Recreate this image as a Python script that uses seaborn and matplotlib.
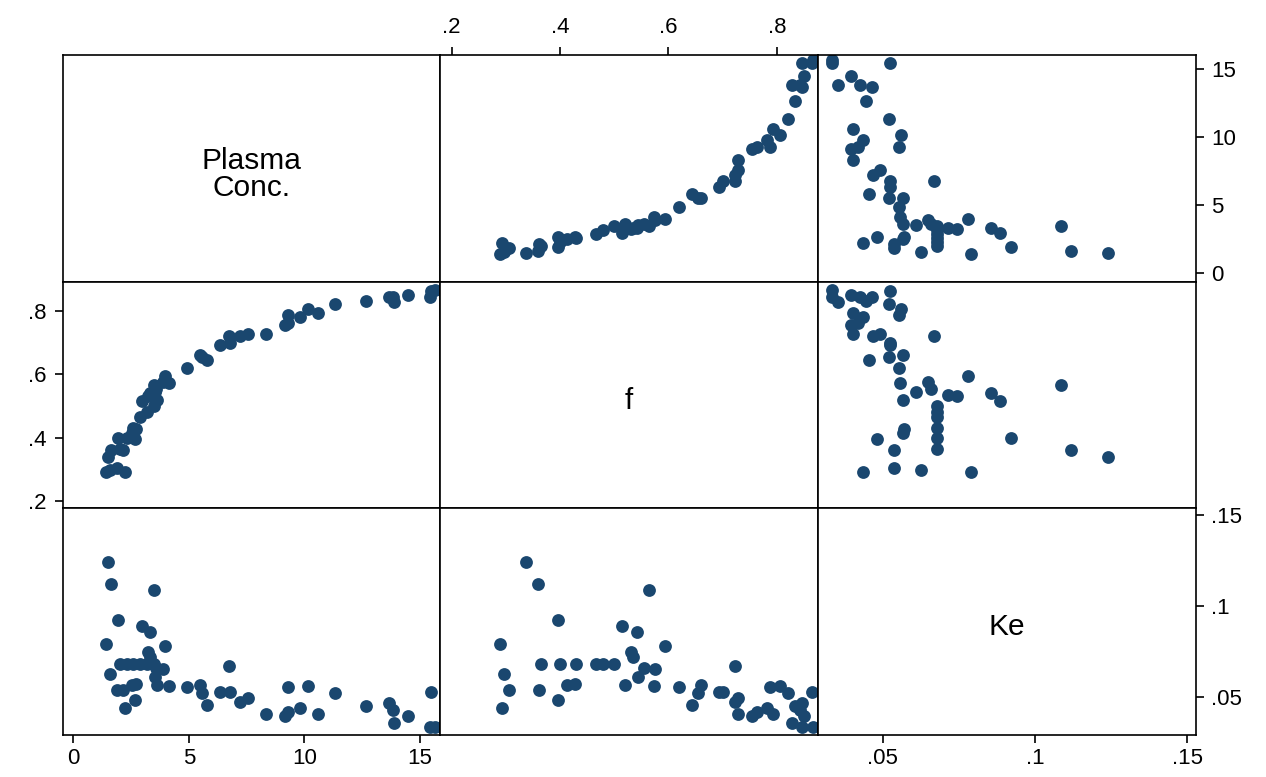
import pandas as pd
import seaborn as sns
import matplotlib.pyplot as plt
import numpy as np

sns.set_style("white")
plt.rcParams['font.family'] = ['Liberation Sans', 'DejaVu Sans']

# data (Plasma Conc., f, Ke)
conc = [1.42, 1.49, 1.59, 1.62, 1.88, 1.95, 2.00, 2.17, 2.24, 2.31,
        2.55, 2.67, 2.70, 2.60, 2.90, 2.99, 3.20, 3.25, 3.32, 3.49,
        3.50, 3.60, 3.61, 3.55, 3.90, 3.97, 4.14, 3.30, 4.91, 5.50,
        5.56, 5.80, 6.35, 6.79, 6.75, 7.22, 7.58, 8.33, 9.16, 9.30,
        9.31, 9.80, 10.17, 10.60, 11.33, 12.67, 13.68, 13.85, 13.88, 14.50,
        15.47, 15.44, 15.66]
f = [0.290, 0.338, 0.297, 0.360, 0.305, 0.397, 0.365, 0.362, 0.292, 0.400,
     0.413, 0.396, 0.428, 0.430, 0.466, 0.515, 0.480, 0.530, 0.542, 0.565,
     0.500, 0.555, 0.520, 0.543, 0.575, 0.594, 0.574, 0.535, 0.620, 0.660,
     0.654, 0.644, 0.694, 0.700, 0.722, 0.722, 0.728, 0.729, 0.755, 0.763,
     0.787, 0.781, 0.806, 0.793, 0.821, 0.833, 0.846, 0.843, 0.828, 0.851,
     0.865, 0.846, 0.866]
ke = [0.0790, 0.1240, 0.0627, 0.1120, 0.0539, 0.0920, 0.0680, 0.0539, 0.0437, 0.0680,
      0.0567, 0.0483, 0.0570, 0.0680, 0.0680, 0.0887, 0.0680, 0.0744, 0.0856, 0.1085,
      0.0680, 0.0660, 0.0567, 0.0610, 0.0650, 0.0780, 0.0558, 0.0716, 0.0553, 0.0567,
      0.0520, 0.0455, 0.0526, 0.0526, 0.0670, 0.0470, 0.0493, 0.0403, 0.0395, 0.0418,
      0.0553, 0.0437, 0.0561, 0.0403, 0.0520, 0.0446, 0.0465, 0.0427, 0.0353, 0.0395,
      0.0526, 0.0334, 0.0334]

variables = ["conc", "f", "ke"]
names = ["Plasma\nConc.", "f", "Ke"]
conc_ticks = [0, 5, 10, 15]
conc_labels = ["0", "5", "10", "15"]
f_ticks = [0.2, 0.4, 0.6, 0.8]
f_labels = [".2", ".4", ".6", ".8"]
ke_ticks = [0.05, 0.10, 0.15]
ke_labels = [".05", ".1", ".15"]

df = pd.DataFrame({"conc": conc, "f": f, "ke": ke})

navy = "#1a476f"
W, H = 1266, 777
cols = [63, 440, 818, 1196]
rows = [55, 282, 508, 735]

# axis limits so that ticks land where they are in the picture
xlims = {"conc": (-0.446, 15.87), "f": (0.1784, 0.876), "ke": (0.0288, 0.1529)}
ylims = {"conc": (-0.64, 16.05), "f": (0.177, 0.892), "ke": (0.0289, 0.1539)}
ticks = {"conc": (conc_ticks, conc_labels), "f": (f_ticks, f_labels), "ke": (ke_ticks, ke_labels)}

fig = plt.figure(figsize=(W / 100, H / 100), dpi=100)

tick_kw = dict(length=6, width=1.2, color="black", labelsize=16, labelcolor="black")

for i in range(3):
    for j in range(3):
        x0, x1 = cols[j], cols[j + 1]
        y0, y1 = rows[i], rows[i + 1]
        ax = fig.add_axes([x0 / W, 1 - y1 / H, (x1 - x0) / W, (y1 - y0) / H])
        for sp in ax.spines.values():
            sp.set_visible(True)
            sp.set_color("black")
            sp.set_linewidth(1.2)
        ax.set_xlim(xlims[variables[j]])
        ax.set_ylim(ylims[variables[i]])
        if i == j:
            ax.text(0.5, 0.475, names[i], transform=ax.transAxes, ha="center", va="center",
                    fontsize=21.5, linespacing=0.95, color="black")
        else:
            sns.scatterplot(data=df, x=variables[j], y=variables[i], ax=ax,
                            color=navy, s=85, linewidth=0, legend=False)
        ax.set_xlabel("")
        ax.set_ylabel("")
        ax.set_xticks([])
        ax.set_yticks([])

        # outer axes, Stata style alternating sides
        if i == 2 and j in (0, 2):
            t, l = ticks[variables[j]]
            ax.set_xticks(t)
            ax.set_xticklabels(l)
            ax.tick_params(axis="x", bottom=True, labelbottom=True, pad=3, **tick_kw)
        if i == 0 and j == 1:
            t, l = ticks[variables[j]]
            ax.set_xticks(t)
            ax.set_xticklabels(l)
            ax.tick_params(axis="x", top=True, labeltop=True, bottom=False,
                           labelbottom=False, pad=6, **tick_kw)
        if j == 2 and i in (0, 2):
            t, l = ticks[variables[i]]
            ax.set_yticks(t)
            ax.set_yticklabels(l)
            ax.tick_params(axis="y", right=True, labelright=True, left=False,
                           labelleft=False, pad=5, **tick_kw)
        if j == 0 and i == 1:
            t, l = ticks[variables[i]]
            ax.set_yticks(t)
            ax.set_yticklabels(l)
            ax.tick_params(axis="y", left=True, labelleft=True, pad=6, **tick_kw)

fig.savefig("out.png", dpi=100)
